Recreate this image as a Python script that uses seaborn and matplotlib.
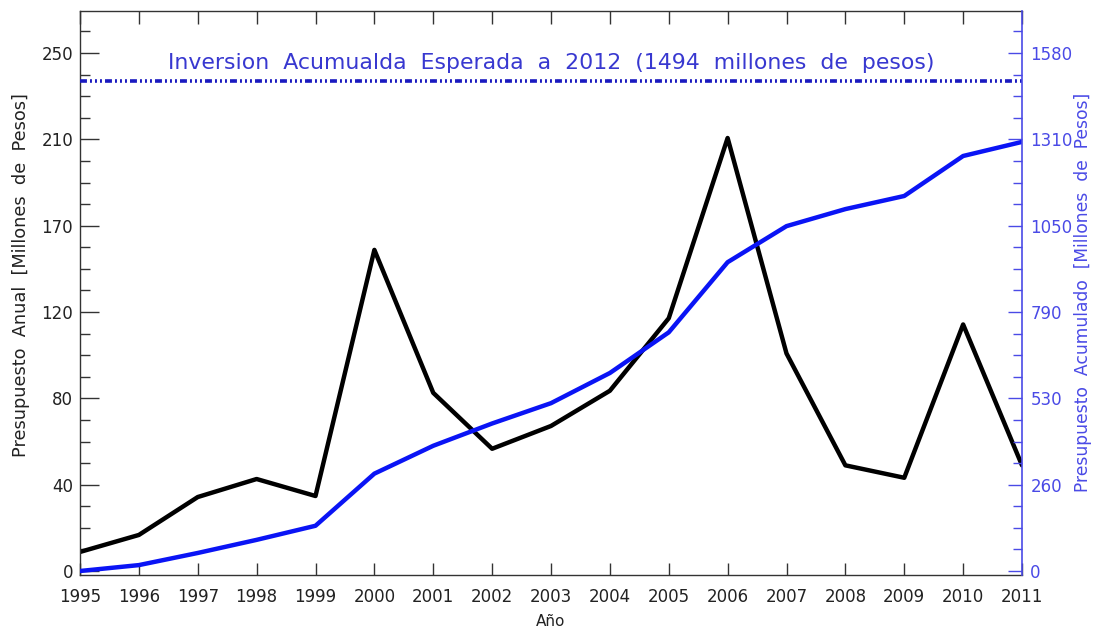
import matplotlib
matplotlib.use("Agg")
import matplotlib.pyplot as plt
from matplotlib.ticker import MultipleLocator
import numpy as np
import pandas as pd
import seaborn as sns

# Annual and cumulative budget, millions of pesos
years = list(range(1995, 2012))
anual = [9.2, 17.4, 35.7, 44.4, 36.2, 155, 86, 59, 70, 87, 122, 209, 105, 51, 45, 119, 51]
acumulado = [0, 18, 55, 95, 138, 297, 382, 450, 512, 604, 728, 942, 1052, 1104, 1144, 1266, 1309]
meta_2012 = 1494

left_tick_labels = ["0", "40", "80", "120", "170", "210", "250"]
right_tick_labels = ["0", "260", "530", "790", "1050", "1310", "1580"]
left_top = 250
right_top = 1580

sns.set_style("ticks")
plt.rcParams["font.family"] = ["DejaVu Sans"]
plt.rcParams["lines.scale_dashes"] = False

BLUE_LINE = "#0a14f5"
BLUE_AXIS = "#4a4ae6"
BLUE_TEXT = "#3838d0"
GRAY = "#333333"

df = pd.DataFrame({"Año": years, "anual": anual, "acumulado": acumulado})

fig = plt.figure(figsize=(11, 6.3), dpi=100)
ax = fig.add_axes([80 / 1100, 1 - 575 / 630, 942 / 1100, 564 / 630])
ax2 = ax.twinx()

sns.lineplot(data=df, x="Año", y="anual", ax=ax, color="black", lw=3.2)
sns.lineplot(data=df, x="Año", y="acumulado", ax=ax2, color=BLUE_LINE, lw=3.2)

# Expected accumulated investment by 2012
ax2.axhline(meta_2012, color="#1a1ac0", lw=2.6,
            linestyle=(0, (5, 2.2, 1.4, 2.2, 1.4, 2.2, 1.4, 2.2)))
ax.text(0.5, (575 - 63) / 564,
        "Inversion  Acumualda  Esperada  a  2012  (1494  millones  de  pesos)",
        transform=ax.transAxes, ha="center", va="center",
        fontsize=15.8, color=BLUE_TEXT)

# Axis ranges (right axis scaled to the left one)
ymin, ymax = -1.93, 270.3
ratio = right_top / left_top
ax.set_xlim(1995, 2011)
ax.set_ylim(ymin, ymax)
ax2.set_ylim(ymin * ratio, ymax * ratio)

ax.set_xticks(years, labels=[str(y) for y in years])
ax.set_yticks([k * left_top / 6 for k in range(7)], labels=left_tick_labels)
ax.yaxis.set_minor_locator(MultipleLocator(left_top / 24))
ax2.set_yticks([k * right_top / 6 for k in range(7)], labels=right_tick_labels)
ax2.yaxis.set_minor_locator(MultipleLocator(right_top / 24))

ax.tick_params(axis="x", direction="in", top=True, bottom=True, length=9,
               width=1, pad=9, labelsize=12, color=GRAY, labelcolor="#222222")
ax.tick_params(axis="y", which="major", direction="in", left=True, right=False,
               length=14, width=1, pad=5, labelsize=12, color=GRAY,
               labelcolor="#222222")
ax.tick_params(axis="y", which="minor", direction="in", left=True, right=False,
               length=7.5, width=1, color=GRAY)
ax2.tick_params(axis="y", which="major", direction="in", length=10, width=1,
                pad=6, labelsize=12, color=BLUE_AXIS, labelcolor=BLUE_AXIS)
ax2.tick_params(axis="y", which="minor", direction="in", length=6.5, width=1,
                color=BLUE_AXIS)

for name in ["left", "top", "bottom"]:
    ax.spines[name].set_color(GRAY)
    ax.spines[name].set_linewidth(1)
    ax2.spines[name].set_visible(False)
ax.spines["right"].set_visible(False)
ax2.spines["right"].set_color(BLUE_AXIS)
ax2.spines["right"].set_linewidth(1.2)

ax.set_xlabel("Año", fontsize=11, color="#222222")
ax.xaxis.set_label_coords(0.5, (575 - 622) / 564)
ax.xaxis.label.set_va("center")

ax.set_ylabel("Presupuesto  Anual  [Millones  de  Pesos]", fontsize=12.8,
              color="#222222")
ax.yaxis.set_label_coords((21 - 80) / 942, (575 - 275) / 564)
ax.yaxis.label.set_va("center")

ax2.set_ylabel("Presupuesto  Acumulado  [Millones  de  Pesos]", fontsize=12.3,
               color=BLUE_AXIS, rotation=90)
ax2.yaxis.set_label_coords((1083 - 80) / 942, (575 - 292) / 564)
ax2.yaxis.label.set_va("center")

fig.savefig("out.png", dpi=100, facecolor="white")
